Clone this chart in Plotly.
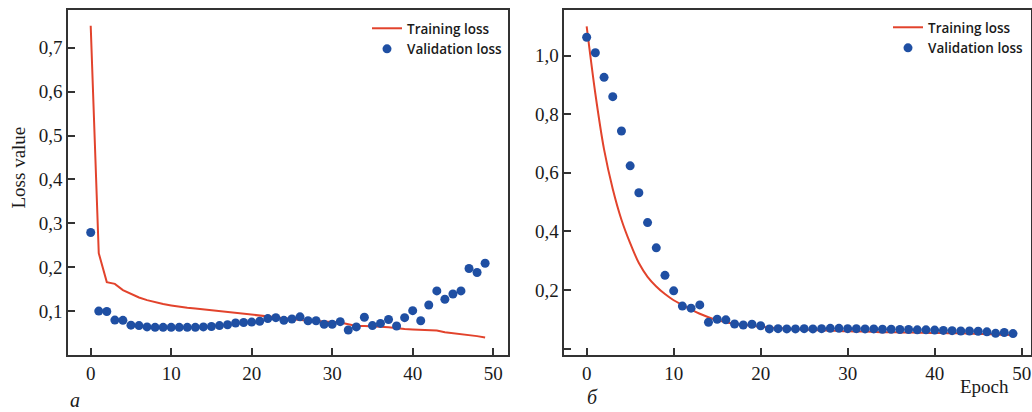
import plotly.graph_objects as go

# ---------------- data ----------------
epochs = list(range(50))

train_a = [0.750, 0.232, 0.166, 0.162, 0.148, 0.140, 0.131, 0.125, 0.120, 0.116,
           0.113, 0.110, 0.1075, 0.106, 0.104, 0.102, 0.100, 0.098, 0.0955, 0.093,
           0.091, 0.0885, 0.0863, 0.085, 0.083, 0.0815, 0.080, 0.0785, 0.077, 0.076,
           0.075, 0.074, 0.070, 0.066, 0.066, 0.066, 0.0645, 0.063, 0.0605, 0.059,
           0.058, 0.057, 0.057, 0.056, 0.052, 0.050, 0.0477, 0.0455, 0.043, 0.040]

val_a = [0.279, 0.100, 0.099, 0.0795, 0.079, 0.068, 0.067, 0.064, 0.063, 0.063,
         0.063, 0.063, 0.063, 0.063, 0.064, 0.065, 0.067, 0.069, 0.073, 0.074,
         0.075, 0.077, 0.083, 0.085, 0.079, 0.082, 0.087, 0.078, 0.078, 0.070,
         0.070, 0.076, 0.057, 0.064, 0.086, 0.067, 0.072, 0.081, 0.066, 0.085,
         0.101, 0.078, 0.114, 0.146, 0.127, 0.139, 0.146, 0.197, 0.188, 0.209]

train_b = [1.100, 0.870, 0.680, 0.545, 0.440, 0.360, 0.292, 0.245, 0.212, 0.186,
           0.165, 0.149, 0.133, 0.119, 0.107, 0.097, 0.090, 0.085, 0.081, 0.078,
           0.075, 0.072, 0.070, 0.068, 0.066, 0.065, 0.063, 0.062, 0.061, 0.060,
           0.059, 0.058, 0.058, 0.057, 0.056, 0.056, 0.055, 0.055, 0.054, 0.054,
           0.053, 0.053, 0.052, 0.052, 0.051, 0.050, 0.049, 0.048, 0.047, 0.046]

val_b = [1.063, 1.010, 0.926, 0.860, 0.743, 0.624, 0.532, 0.430, 0.344, 0.250,
         0.197, 0.145, 0.138, 0.149, 0.090, 0.100, 0.098, 0.084, 0.0805, 0.083,
         0.078, 0.067, 0.068, 0.067, 0.067, 0.068, 0.067, 0.068, 0.069, 0.069,
         0.068, 0.068, 0.067, 0.067, 0.066, 0.066, 0.065, 0.065, 0.064, 0.064,
         0.063, 0.062, 0.061, 0.060, 0.060, 0.059, 0.057, 0.052, 0.055, 0.051]

x_ticks = [0, 10, 20, 30, 40, 50]
x_ticktext = ["0", "10", "20", "30", "40", "50"]
ya_ticks = [0.1, 0.2, 0.3, 0.4, 0.5, 0.6, 0.7]
ya_ticktext = ["0,1", "0,2", "0,3", "0,4", "0,5", "0,6", "0,7"]
yb_ticks = [0.0, 0.2, 0.4, 0.6, 0.8, 1.0]
yb_ticktext = ["", "0,2", "0,4", "0,6", "0,8", "1,0"]

series_names = ["Training loss", "Validation loss"]

# ---------------- style ----------------
W, H = 1032, 412
RED = "#e2432c"
BLUE = "#1f4fa3"
FRAME = "#333333"
TXT = "#1a1a1a"
SERIF = "Liberation Serif, Times New Roman, serif"
SANS = "Open Sans, Noto Sans, sans-serif"

def px_x(p):
    return p / W

def px_y(p):
    return 1 - p / H

fig = go.Figure()

fig.add_trace(go.Scatter(x=epochs, y=train_a, mode="lines", name=series_names[0],
                         line=dict(color=RED, width=2), xaxis="x", yaxis="y",
                         legend="legend"))
fig.add_trace(go.Scatter(x=epochs, y=val_a, mode="markers", name=series_names[1],
                         marker=dict(color=BLUE, size=9), xaxis="x", yaxis="y",
                         legend="legend"))
fig.add_trace(go.Scatter(x=epochs, y=train_b, mode="lines", name=series_names[0],
                         line=dict(color=RED, width=2, shape="spline", smoothing=0.8),
                         xaxis="x2", yaxis="y2", legend="legend2"))
fig.add_trace(go.Scatter(x=epochs, y=val_b, mode="markers", name=series_names[1],
                         marker=dict(color=BLUE, size=9), xaxis="x2", yaxis="y2",
                         legend="legend2"))

common_axis = dict(showline=True, mirror=True, linecolor=FRAME, linewidth=1.5,
                   ticks="inside", ticklen=7, tickwidth=1.5, tickcolor=FRAME,
                   showgrid=False, zeroline=False,
                   tickfont=dict(family=SERIF, size=19, color=TXT))

ydom = [px_y(355), px_y(10)]

legend_font = dict(family=SANS, size=13.5, color=TXT, weight=600)

fig.update_layout(
    width=W, height=H,
    margin=dict(l=0, r=0, t=0, b=0),
    paper_bgcolor="white", plot_bgcolor="white",
    xaxis=dict(domain=[px_x(68), px_x(507.5)], range=[-2.82, 51.78],
               tickvals=x_ticks, ticktext=x_ticktext, anchor="y", **common_axis),
    yaxis=dict(domain=ydom, range=[0, 0.786], tickvals=ya_ticks,
               ticktext=ya_ticktext, anchor="x", **common_axis),
    xaxis2=dict(domain=[px_x(564.3), px_x(1031)], range=[-2.57, 51.07],
                tickvals=x_ticks, ticktext=x_ticktext, anchor="y2", **common_axis),
    yaxis2=dict(domain=ydom, range=[-0.022, 1.156], tickvals=yb_ticks,
                ticktext=yb_ticktext, anchor="x2", **common_axis),
    legend=dict(x=px_x(367), y=px_y(13), xanchor="left", yanchor="top",
                bgcolor="rgba(255,255,255,0.9)", borderwidth=0,
                font=legend_font, tracegroupgap=0, itemwidth=30),
    legend2=dict(x=px_x(888), y=px_y(12), xanchor="left", yanchor="top",
                 bgcolor="rgba(255,255,255,0.9)", borderwidth=0,
                 font=legend_font, tracegroupgap=0, itemwidth=30),
    showlegend=True,
)

fig.add_annotation(text="Loss value", xref="paper", yref="paper",
                   x=px_x(17.5), y=px_y(168), textangle=-90, showarrow=False,
                   xanchor="center", yanchor="middle",
                   font=dict(family=SERIF, size=19, color=TXT))
fig.add_annotation(text="Epoch", xref="paper", yref="paper",
                   x=px_x(984), y=px_y(386), showarrow=False,
                   xanchor="center", yanchor="middle",
                   font=dict(family=SERIF, size=19, color=TXT))
fig.add_annotation(text="<i>а</i>", xref="paper", yref="paper",
                   x=px_x(75), y=px_y(400), showarrow=False,
                   xanchor="center", yanchor="middle",
                   font=dict(family=SERIF, size=20, color=TXT))
fig.add_annotation(text="<i>б</i>", xref="paper", yref="paper",
                   x=px_x(592), y=px_y(397), showarrow=False,
                   xanchor="center", yanchor="middle",
                   font=dict(family=SERIF, size=20, color=TXT))

fig.write_html("out.html",
               config={"displayModeBar": False},
               post_script="document.body.style.margin='0';document.body.style.overflow='hidden';")
